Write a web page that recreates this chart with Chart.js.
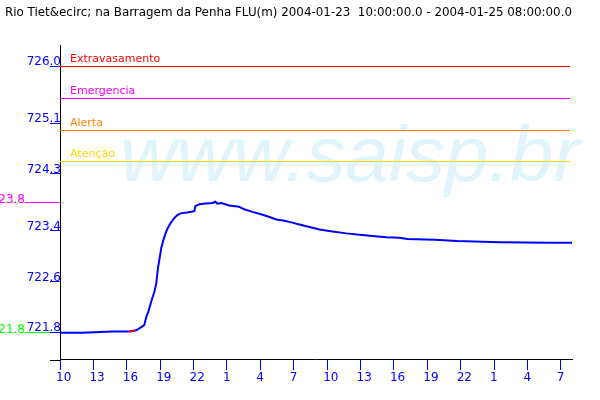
<!DOCTYPE html>
<html>
<head>
<meta charset="utf-8">
<script src="https://cdn.jsdelivr.net/npm/chart.js@4"></script>
<style>
  body { margin: 0; background: #fff; }
</style>
</head>
<body>
<canvas id="chart" width="600" height="400"></canvas>
<script>
// --- 데이터 (hours after 2004-01-23 10:00) ---
const titleText = "Rio Tiet&ecirc; na Barragem da Penha FLU(m) 2004-01-23  10:00:00.0 - 2004-01-25 08:00:00.0";

const levelHours = [0, 2, 4.7, 6.2, 6.85, 7.3, 7.57, 7.75, 7.93, 8.11, 8.29, 8.47, 8.65, 8.8, 8.95, 9.1, 9.28, 9.52, 9.73, 10.0, 10.27, 10.54, 10.9, 11.43, 12.07, 12.16, 12.52, 13.06, 13.69, 13.96, 14.14, 14.5, 14.85, 15.2, 16.1, 16.56, 17.28, 17.91, 18.63, 19.44, 20.16, 20.88, 21.51, 22.41, 23.31, 24.48, 25.74, 26.9, 28.07, 29.33, 30.5, 31.2, 33.65, 35.7, 39.5, 44.0, 46.0];
const levelValues = [721.79, 721.79, 721.81, 721.81, 721.83, 721.88, 721.91, 722.04, 722.12, 722.23, 722.34, 722.43, 722.57, 722.81, 722.97, 723.13, 723.25, 723.38, 723.46, 723.54, 723.60, 723.65, 723.68, 723.69, 723.71, 723.79, 723.82, 723.83, 723.84, 723.86, 723.83, 723.84, 723.82, 723.80, 723.78, 723.74, 723.70, 723.67, 723.63, 723.58, 723.56, 723.53, 723.50, 723.46, 723.42, 723.39, 723.36, 723.34, 723.32, 723.30, 723.29, 723.27, 723.26, 723.24, 723.22, 723.21, 723.21];

// 보정 구간 (red piece)
const flaggedHours = [6.2, 6.7];
const flaggedValues = [721.81, 721.82];

const xTickHours = [0, 3, 6, 9, 12, 15, 18, 21, 24, 27, 30, 33, 36, 39, 42, 45];
const xTickLabels = ["10", "13", "16", "19", "22", "1", "4", "7", "10", "13", "16", "19", "22", "1", "4", "7"];

const yTickValues = [721.8, 722.6, 723.4, 724.3, 725.1, 726.0];
const yTickLabels = ["721.8", "722.6", "723.4", "724.3", "725.1", "726.0"];

const limitNames = ["Extravasamento", "Emergencia", "Alerta", "Atenção"];
const limitValues = [726.0, 725.5, 725.0, 724.5];
const limitColors = ["#ff0000", "#ff00ff", "#ff8000", "#ffd800"];

// max / min markers
const markerLabels = ["723.8", "721.8"];
const markerValues = [723.85, 721.8];
const markerColors = ["#ff00ff", "#00ff00"];

const watermarkText = "www.saisp.br";

// --- plugins ---
const extrasPlugin = {
  id: "extras",
  beforeDatasetsDraw(chart) {
    const { ctx, chartArea } = chart;
    const y = chart.scales.y;
    ctx.save();
    // watermark
    ctx.font = "italic 78px 'Liberation Sans', Arial, sans-serif";
    ctx.fillStyle = "#e0f4fc";
    ctx.textAlign = "left";
    ctx.textBaseline = "alphabetic";
    ctx.fillText(watermarkText, chartArea.left + 60, chartArea.top + 135);

    // limit lines + labels
    ctx.font = "11px 'DejaVu Sans', sans-serif";
    limitValues.forEach((v, i) => {
      const py = Math.round(y.getPixelForValue(v)) + 0.5;
      ctx.strokeStyle = limitColors[i];
      ctx.lineWidth = 1;
      ctx.beginPath();
      ctx.moveTo(chartArea.left, py);
      ctx.lineTo(chartArea.right - 2, py);
      ctx.stroke();
      ctx.fillStyle = limitColors[i];
      ctx.fillText(limitNames[i], chartArea.left + 10, py - 5);
    });
    ctx.restore();
  },
  afterDraw(chart) {
    const { ctx, chartArea } = chart;
    const y = chart.scales.y;
    ctx.save();
    // x axis runs a bit left of the y axis
    ctx.strokeStyle = "#000";
    ctx.lineWidth = 1;
    ctx.beginPath();
    ctx.moveTo(chartArea.left - 10, chartArea.bottom + 0.5);
    ctx.lineTo(chartArea.left, chartArea.bottom + 0.5);
    ctx.stroke();

    // min / max markers on the left
    ctx.font = "12px 'DejaVu Sans', sans-serif";
    ctx.textAlign = "right";
    ctx.textBaseline = "alphabetic";
    markerValues.forEach((v, i) => {
      const py = Math.round(y.getPixelForValue(v)) + 0.5;
      ctx.strokeStyle = markerColors[i];
      ctx.beginPath();
      ctx.moveTo(25, py);
      ctx.lineTo(i === 0 ? chartArea.left : chartArea.left - 10, py);
      ctx.stroke();
      ctx.fillStyle = markerColors[i];
      ctx.fillText(markerLabels[i], 25, py);
    });
    ctx.restore();
  },
};

const ctx = document.getElementById("chart").getContext("2d");
new Chart(ctx, {
  type: "line",
  data: {
    datasets: [
      {
        data: flaggedHours.map((h, i) => ({ x: h, y: flaggedValues[i] })),
        borderColor: "#ff0000",
        borderWidth: 2,
        pointRadius: 0,
      },
      {
        data: levelHours.map((h, i) => ({ x: h, y: levelValues[i] })),
        borderColor: "#0000ff",
        borderWidth: 2,
        pointRadius: 0,
      },
    ],
  },
  options: {
    responsive: false,
    animation: false,
    layout: { padding: { left: 5, right: 28, top: 0, bottom: 0 } },
    plugins: {
      legend: { display: false },
      tooltip: { enabled: false },
      title: {
        display: true,
        text: titleText,
        align: "start",
        color: "#000",
        font: { family: "'DejaVu Sans', sans-serif", size: 12.3, weight: "normal" },
        padding: { top: 5, bottom: 26.2 },
      },
    },
    scales: {
      x: {
        type: "linear",
        min: 0,
        max: 46,
        afterBuildTicks: (s) => { s.ticks = xTickHours.map((v) => ({ value: v })); },
        afterFit: (s) => { s.height = 40; },
        grid: { drawOnChartArea: false, tickLength: 10, tickColor: "#0000ff" },
        border: { color: "#000", width: 1 },
        ticks: {
          autoSkip: false,
          maxRotation: 0,
          align: "start",
          labelOffset: -4,
          padding: 1,
          color: "#0000ff",
          font: { family: "'DejaVu Sans', sans-serif", size: 12 },
          callback: (v, i) => xTickLabels[i],
        },
      },
      y: {
        min: 721.36,
        max: 726.32,
        afterBuildTicks: (s) => { s.ticks = yTickValues.map((v) => ({ value: v })); },
        afterFit: (s) => { s.width = 55; },
        grid: { drawOnChartArea: false, tickLength: 10, tickColor: "#0000ff" },
        border: { color: "#000", width: 1 },
        ticks: {
          padding: -11,
          labelOffset: -4,
          color: "#0000ff",
          font: { family: "'DejaVu Sans', sans-serif", size: 12 },
          callback: (v, i) => yTickLabels[i],
        },
      },
    },
  },
  plugins: [extrasPlugin],
});
</script>
</body>
</html>
